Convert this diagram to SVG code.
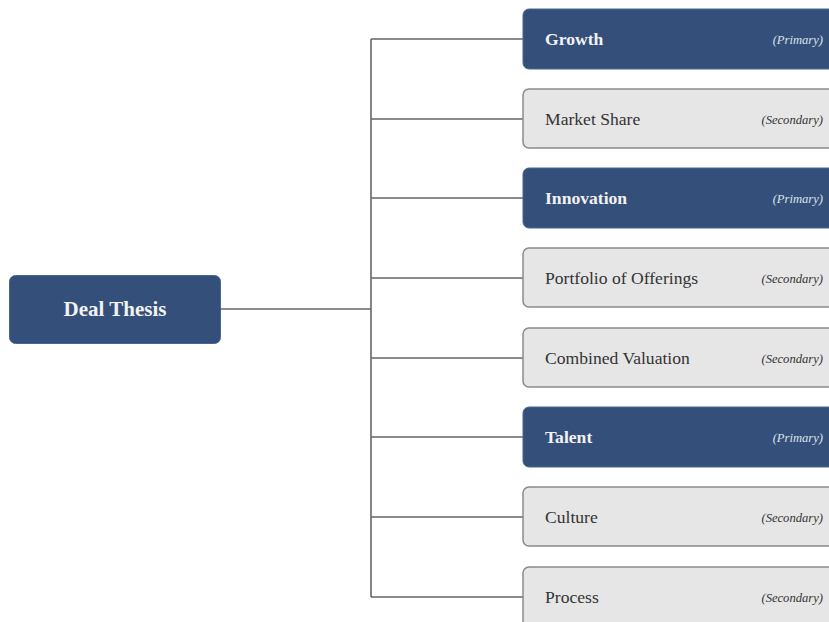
<svg xmlns="http://www.w3.org/2000/svg" width="829" height="622" viewBox="0 0 829 622">
<style>
.pri rect{fill:#344f79;stroke:#4a6690;stroke-width:1}
.sec rect{fill:#e6e6e6;stroke:#8a8a8a;stroke-width:1.5}
.lbl{font-family:"Liberation Serif",serif;font-size:17.6px}
.pri .lbl{fill:#f2f2f2;font-weight:bold}
.sec .lbl{fill:#333}
.tag{font-family:"Liberation Serif",serif;font-size:12.6px;font-style:italic;text-anchor:end}
.pri .tag{fill:#dde3ee}
.sec .tag{fill:#333}
.conn{stroke:#666;stroke-width:1.6;fill:none}
</style>
<rect width="829" height="622" fill="#fff"/>
<g id="connectors" class="conn">
<path d="M221 309H371"/>
<path d="M371 39V597"/>
<path d="M371 39H523M371 119H523M371 198H523M371 278H523M371 358H523M371 437H523M371 517H523M371 597H523"/>
</g>
<g id="deal-thesis" class="pri">
<rect x="9.5" y="275.5" width="211" height="68" rx="6"/>
<text class="lbl" x="115" y="316" text-anchor="middle" style="font-size:21px">Deal Thesis</text>
</g>
<g id="growth" class="pri">
<rect x="523" y="9" width="320" height="60" rx="6"/>
<text class="lbl" x="545" y="45">Growth</text>
<text class="tag" x="823" y="44">(Primary)</text>
</g>
<g id="market-share" class="sec">
<rect x="523" y="89" width="320" height="59" rx="6"/>
<text class="lbl" x="545" y="125">Market Share</text>
<text class="tag" x="823" y="124">(Secondary)</text>
</g>
<g id="innovation" class="pri">
<rect x="523" y="168" width="320" height="60" rx="6"/>
<text class="lbl" x="545" y="204">Innovation</text>
<text class="tag" x="823" y="203">(Primary)</text>
</g>
<g id="portfolio" class="sec">
<rect x="523" y="248" width="320" height="59" rx="6"/>
<text class="lbl" x="545" y="284">Portfolio of Offerings</text>
<text class="tag" x="823" y="283">(Secondary)</text>
</g>
<g id="combined-valuation" class="sec">
<rect x="523" y="328" width="320" height="59" rx="6"/>
<text class="lbl" x="545" y="364">Combined Valuation</text>
<text class="tag" x="823" y="363">(Secondary)</text>
</g>
<g id="talent" class="pri">
<rect x="523" y="407" width="320" height="60" rx="6"/>
<text class="lbl" x="545" y="443">Talent</text>
<text class="tag" x="823" y="442">(Primary)</text>
</g>
<g id="culture" class="sec">
<rect x="523" y="487" width="320" height="59" rx="6"/>
<text class="lbl" x="545" y="523">Culture</text>
<text class="tag" x="823" y="522">(Secondary)</text>
</g>
<g id="process" class="sec">
<rect x="523" y="567" width="320" height="60" rx="6"/>
<text class="lbl" x="545" y="603">Process</text>
<text class="tag" x="823" y="602">(Secondary)</text>
</g>
</svg>
